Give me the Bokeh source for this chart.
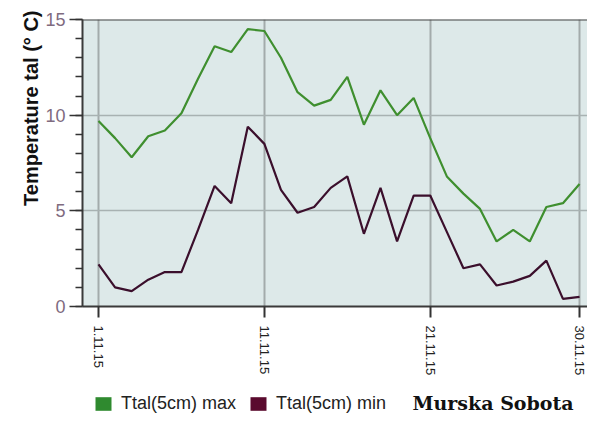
from math import pi
from bokeh.plotting import figure
from bokeh.layouts import column
from bokeh.models import Range1d, FixedTicker, Label, Legend, LegendItem, Span, Title
from bokeh.embed import file_html
from bokeh.resources import INLINE

# ---- data ----
days = list(range(1, 31))
tal_max = [9.7, 8.8, 7.8, 8.9, 9.2, 10.1, 11.9, 13.6, 13.3, 14.5,
           14.4, 13.0, 11.2, 10.5, 10.8, 12.0, 9.5, 11.3, 10.0, 10.9,
           8.8, 6.8, 5.9, 5.1, 3.4, 4.0, 3.4, 5.2, 5.4, 6.4]
tal_min = [2.2, 1.0, 0.8, 1.4, 1.8, 1.8, 4.0, 6.3, 5.4, 9.4,
           8.5, 6.1, 4.9, 5.2, 6.2, 6.8, 3.8, 6.2, 3.4, 5.8,
           5.8, 3.9, 2.0, 2.2, 1.1, 1.3, 1.6, 2.4, 0.4, 0.5]
x_tick_days = [1, 11, 21, 30]
x_tick_labels = ["1.11.15", "11.11.15", "21.11.15", "30.11.15"]
y_ticks = [0, 5, 10, 15]
y_minor_ticks = list(range(0, 16))
y_label = "Temperature tal (° C)"
legend_labels = ["Ttal(5cm) max", "Ttal(5cm) min"]
station = "Murska Sobota"

# ---- styles ----
C_MAX = "#3f8f2f"
C_MIN = "#3b0f2c"
C_MAX_BOX = "#2f8a2f"
C_MIN_BOX = "#5a0a2e"
FONT = "Liberation Sans"
NAN = float("nan")

p = figure(width=587, height=380, output_backend="svg", toolbar_location=None,
           x_range=Range1d(0.035, 30.48), y_range=Range1d(0, 15),
           min_border_left=82, min_border_right=0, min_border_top=19,
           min_border_bottom=74)

p.background_fill_color = "#dde9e9"
p.border_fill_color = "white"
p.outline_line_color = None

# x axis
p.xaxis.ticker = FixedTicker(ticks=x_tick_days)
p.xaxis.major_label_overrides = {d: l for d, l in zip(x_tick_days, x_tick_labels)}
p.xaxis.major_label_orientation = "vertical"
p.xaxis.major_label_text_font = FONT
p.xaxis.major_label_text_font_size = "13px"
p.xaxis.major_label_text_color = "#222222"
p.xaxis.major_label_standoff = 8
p.xaxis.major_tick_in = 0
p.xaxis.major_tick_out = 11
p.xaxis.major_tick_line_width = 2
p.xaxis.major_tick_line_color = "#333333"
p.xaxis.minor_tick_line_color = None
p.xaxis.axis_line_color = "#3a3a3a"
p.xaxis.axis_line_width = 2

# y axis
p.yaxis.ticker = FixedTicker(ticks=y_ticks, minor_ticks=y_minor_ticks)
p.yaxis.major_label_text_font = FONT
p.yaxis.major_label_text_font_size = "18px"
p.yaxis.major_label_text_color = "#7f6b7f"
p.yaxis.major_label_standoff = 4
p.yaxis.major_tick_in = 0
p.yaxis.major_tick_out = 13
p.yaxis.minor_tick_in = 0
p.yaxis.minor_tick_out = 7
p.yaxis.major_tick_line_width = 1.5
p.yaxis.minor_tick_line_width = 1.5
p.yaxis.major_tick_line_color = "#333333"
p.yaxis.minor_tick_line_color = "#333333"
p.yaxis.axis_line_color = "#3a3a3a"
p.yaxis.axis_line_width = 2

# grids
p.xgrid.grid_line_color = "#a3abab"
p.xgrid.grid_line_width = 2
p.ygrid.grid_line_color = "#a8b2b2"
p.ygrid.grid_line_width = 1.5

# top border line
p.add_layout(Span(location=15, dimension="width", line_color="#444444", line_width=2))

# series
p.line(days, tal_max, line_color=C_MAX, line_width=2.2)
p.line(days, tal_min, line_color=C_MIN, line_width=2.2)

# y label as a left-side title, anchored near the top
p.add_layout(Title(text=y_label, align="right", offset=-9,
                   text_font=FONT, text_font_style="bold", text_font_size="20px",
                   text_color="#111111", standoff=2), "left")

# ---- legend strip ----
p2 = figure(width=587, height=34, output_backend="svg", toolbar_location=None,
            x_range=Range1d(0, 1), y_range=Range1d(0, 1),
            x_axis_type=None, y_axis_type=None, min_border=0)
p2.outline_line_color = None
p2.background_fill_color = "white"
p2.border_fill_color = "white"
p2.xgrid.visible = False
p2.ygrid.visible = False

r_max = p2.quad(left=[NAN], right=[NAN], top=[NAN], bottom=[NAN],
                fill_color=C_MAX_BOX, line_color=None)
r_min = p2.quad(left=[NAN], right=[NAN], top=[NAN], bottom=[NAN],
                fill_color=C_MIN_BOX, line_color=None)
legend = Legend(items=[LegendItem(label=legend_labels[0], renderers=[r_max]),
                       LegendItem(label=legend_labels[1], renderers=[r_min])],
                orientation="horizontal", location=(11, 0),
                glyph_width=20, glyph_height=17,
                label_text_font=FONT, label_text_font_size="18px",
                label_text_color="#222222", label_standoff=8, spacing=12,
                padding=0, margin=0, border_line_color=None,
                background_fill_alpha=0)
p2.add_layout(legend)

p2.add_layout(Label(x=330, y=1, x_units="screen", y_units="screen", text=station,
                    text_font="DejaVu Serif", text_font_style="bold",
                    text_font_size="19px", text_color="#111111",
                    text_baseline="bottom"))

layout = column(p, p2, spacing=0)
open("out.html", "w").write(file_html(layout, INLINE))
